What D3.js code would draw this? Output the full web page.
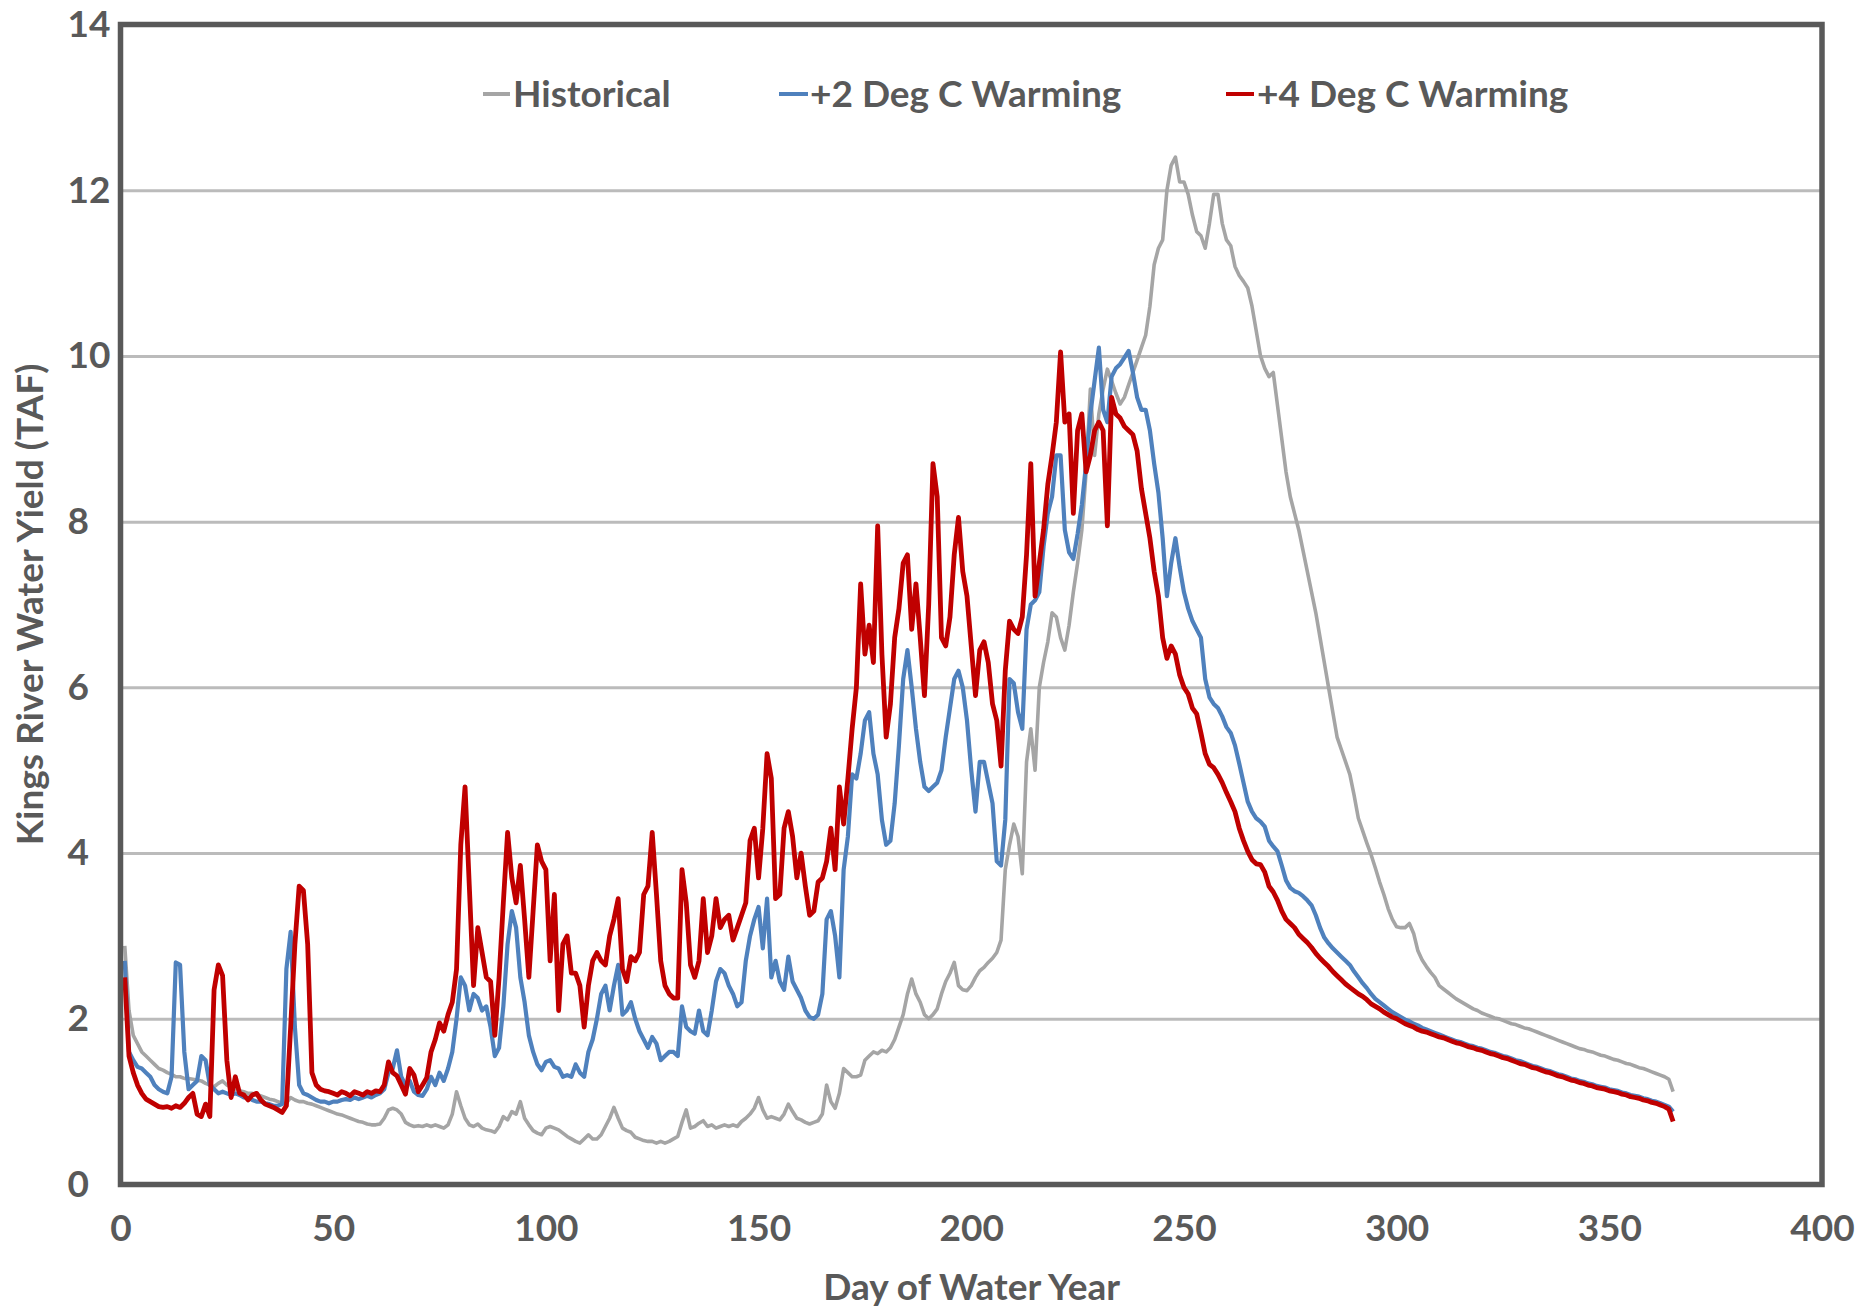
<!DOCTYPE html>
<html>
<head>
<meta charset="utf-8">
<title>Kings River Water Yield</title>
<script src="https://cdn.jsdelivr.net/npm/d3@7"></script>
<style>
  html, body { margin: 0; padding: 0; background: #ffffff; overflow: hidden; }
  svg { display: block; }
  svg text { font-family: Lato, "Open Sans", "DejaVu Sans", sans-serif; font-weight: 700; fill: #595959; }
</style>
</head>
<body>
<svg id="chart" width="1857" height="1308"></svg>
<script>
// Daily water yield (TAF) for each day of the water year, days 1..365.
const historical = [
  2.88, 2.1, 1.8, 1.7, 1.6, 1.55, 1.5, 1.45, 1.4, 1.38,
  1.35, 1.33, 1.3, 1.3, 1.28, 1.28, 1.27, 1.26, 1.25, 1.22,
  1.2, 1.18, 1.22, 1.25, 1.2, 1.18, 1.15, 1.13, 1.12, 1.1,
  1.1, 1.08, 1.07, 1.05, 1.03, 1.02, 1.0, 0.98, 0.98, 1.05,
  1.02, 1.0, 1.0, 0.98, 0.97, 0.95, 0.93, 0.91, 0.89, 0.87,
  0.85, 0.84, 0.82, 0.8, 0.78, 0.76, 0.75, 0.73, 0.72, 0.72,
  0.73, 0.8, 0.9, 0.92, 0.9, 0.85, 0.75, 0.72, 0.7, 0.71,
  0.7, 0.72, 0.7, 0.72, 0.7, 0.68, 0.72, 0.85, 1.12, 0.95,
  0.8, 0.72, 0.7, 0.73, 0.68, 0.66, 0.65, 0.63, 0.7, 0.82,
  0.78, 0.88, 0.85, 1.0, 0.8, 0.72, 0.65, 0.62, 0.6, 0.68,
  0.7, 0.68, 0.66, 0.62, 0.58, 0.55, 0.52, 0.5, 0.55, 0.6,
  0.55, 0.55, 0.6, 0.7, 0.8, 0.93, 0.8, 0.68, 0.65, 0.63,
  0.57, 0.55, 0.53, 0.52, 0.52, 0.5, 0.52, 0.5, 0.52, 0.55,
  0.58, 0.75, 0.9, 0.68, 0.7, 0.74, 0.77, 0.7, 0.72, 0.68,
  0.7, 0.72, 0.7, 0.72, 0.7, 0.76, 0.8, 0.85, 0.92, 1.05,
  0.9, 0.8, 0.82, 0.8, 0.78, 0.85, 0.97, 0.88, 0.8, 0.78,
  0.75, 0.73, 0.75, 0.77, 0.85, 1.2, 1.0, 0.92, 1.1, 1.4,
  1.35, 1.3, 1.3, 1.32, 1.5, 1.55, 1.6, 1.58, 1.62, 1.6,
  1.65, 1.75, 1.9, 2.05, 2.3, 2.48, 2.3, 2.2, 2.05, 2.0,
  2.05, 2.12, 2.3, 2.45, 2.55, 2.68, 2.4, 2.35, 2.34, 2.4,
  2.5, 2.58, 2.62, 2.68, 2.73, 2.8, 2.95, 3.8, 4.1, 4.35,
  4.2, 3.75, 5.1, 5.5, 5.0, 6.0, 6.3, 6.55, 6.9, 6.85,
  6.6, 6.45, 6.75, 7.15, 7.5, 7.9, 8.6, 9.6, 8.8, 9.3,
  9.6, 9.84, 9.7, 9.55, 9.42, 9.5, 9.65, 9.8, 9.95, 10.1,
  10.25, 10.6, 11.1, 11.3, 11.4, 12.0, 12.3, 12.4, 12.1, 12.1,
  11.95, 11.7, 11.5, 11.45, 11.3, 11.6, 11.95, 11.95, 11.6, 11.4,
  11.33, 11.08, 10.97, 10.9, 10.82, 10.6, 10.3, 10.0, 9.85, 9.75,
  9.8, 9.4, 9.0, 8.6, 8.3, 8.1, 7.9, 7.65, 7.4, 7.15,
  6.9, 6.6, 6.3, 6.0, 5.7, 5.4, 5.25, 5.1, 4.95, 4.7,
  4.42, 4.27, 4.12, 3.98, 3.82, 3.65, 3.5, 3.33, 3.2, 3.11,
  3.1, 3.1, 3.15, 3.03, 2.82, 2.71, 2.63, 2.56, 2.5, 2.4,
  2.36, 2.32, 2.28, 2.24, 2.21, 2.18, 2.15, 2.12, 2.1, 2.07,
  2.05, 2.03, 2.01, 2.0, 1.98, 1.96, 1.94, 1.93, 1.91, 1.89,
  1.88, 1.86, 1.84, 1.82, 1.8, 1.78, 1.76, 1.74, 1.72, 1.7,
  1.68, 1.66, 1.64, 1.63, 1.61, 1.6, 1.58, 1.56, 1.55, 1.53,
  1.51, 1.5, 1.48, 1.46, 1.45, 1.43, 1.41, 1.4, 1.38, 1.36,
  1.34, 1.32, 1.3, 1.27, 1.12
];

const warming2 = [
  2.7, 1.6, 1.5, 1.42, 1.4, 1.35, 1.3, 1.2, 1.15, 1.12,
  1.1, 1.3, 2.68, 2.65, 1.6, 1.15, 1.2, 1.25, 1.55, 1.5,
  1.2, 1.15, 1.1, 1.12, 1.1, 1.08, 1.1, 1.08, 1.05, 1.05,
  1.02, 1.0, 1.0, 0.98, 0.97, 0.95, 0.95, 0.97, 2.6, 3.05,
  1.9, 1.2, 1.1, 1.08, 1.05, 1.02, 1.0, 1.0, 0.98, 1.0,
  1.0, 1.02, 1.03, 1.02, 1.05, 1.03, 1.05, 1.07, 1.05, 1.08,
  1.1, 1.15, 1.35, 1.4, 1.62, 1.3, 1.2, 1.25, 1.12, 1.08,
  1.07, 1.15, 1.3, 1.2, 1.35, 1.25, 1.4, 1.6, 2.0, 2.5,
  2.4, 2.1, 2.3, 2.25, 2.1, 2.15, 1.9, 1.55, 1.65, 2.15,
  2.9, 3.3, 3.1, 2.5, 2.2, 1.8, 1.6, 1.45, 1.38, 1.48,
  1.5, 1.42, 1.4, 1.3, 1.32, 1.3, 1.45, 1.35, 1.3, 1.6,
  1.75, 2.0, 2.3, 2.4, 2.1, 2.4, 2.65, 2.05, 2.1, 2.2,
  2.0, 1.85, 1.75, 1.65, 1.78, 1.7, 1.5, 1.55, 1.6, 1.6,
  1.55, 2.15, 1.9, 1.85, 1.82, 2.1, 1.85, 1.8, 2.1, 2.45,
  2.6, 2.55, 2.4, 2.3, 2.15, 2.2, 2.7, 3.0, 3.2, 3.35,
  2.85, 3.45, 2.5, 2.7, 2.45, 2.35, 2.75, 2.45, 2.35, 2.25,
  2.1, 2.02, 2.0, 2.05, 2.3, 3.2, 3.3, 3.0, 2.5, 3.8,
  4.2, 4.95, 4.9, 5.2, 5.6, 5.7, 5.2, 4.95, 4.4, 4.1,
  4.15, 4.6, 5.3, 6.1, 6.45, 6.0, 5.5, 5.1, 4.8, 4.75,
  4.8, 4.85, 5.0, 5.4, 5.75, 6.1, 6.2, 6.0, 5.6, 5.0,
  4.5, 5.1, 5.1, 4.85, 4.6, 3.9, 3.85, 4.4, 6.1, 6.05,
  5.7, 5.5, 6.7, 7.0, 7.05, 7.15, 7.7, 8.1, 8.3, 8.8,
  8.8, 7.9, 7.63, 7.55, 7.85, 8.2, 8.7, 9.3, 9.7, 10.1,
  9.35, 9.2, 9.75, 9.85, 9.9, 9.98, 10.06, 9.8, 9.5, 9.35,
  9.35, 9.1, 8.7, 8.35, 7.8, 7.1, 7.5, 7.8, 7.45, 7.15,
  6.95, 6.8, 6.7, 6.6, 6.1, 5.88, 5.8, 5.75, 5.65, 5.52,
  5.45, 5.3, 5.08, 4.85, 4.62, 4.5, 4.42, 4.38, 4.32, 4.15,
  4.08, 4.02, 3.85, 3.67, 3.58, 3.54, 3.52, 3.48, 3.43, 3.37,
  3.25, 3.1, 2.98, 2.91, 2.85, 2.8, 2.75, 2.7, 2.65, 2.57,
  2.5, 2.43, 2.37, 2.3, 2.24, 2.2, 2.16, 2.12, 2.08, 2.05,
  2.02, 1.99, 1.97, 1.94, 1.92, 1.89, 1.87, 1.85, 1.83, 1.81,
  1.79, 1.77, 1.75, 1.73, 1.72, 1.7, 1.68, 1.67, 1.65, 1.64,
  1.62, 1.6, 1.59, 1.57, 1.55, 1.54, 1.52, 1.5, 1.49, 1.47,
  1.45, 1.43, 1.42, 1.4, 1.38, 1.37, 1.35, 1.33, 1.32, 1.3,
  1.28, 1.27, 1.25, 1.24, 1.22, 1.21, 1.19, 1.18, 1.17, 1.15,
  1.14, 1.13, 1.11, 1.1, 1.08, 1.07, 1.06, 1.04, 1.03, 1.01,
  1.0, 0.98, 0.96, 0.94, 0.88
];

const warming4 = [
  2.5, 1.55, 1.35, 1.2, 1.1, 1.03, 1.0, 0.97, 0.94, 0.93,
  0.94, 0.92, 0.95, 0.93, 0.98, 1.05, 1.1, 0.85, 0.82, 0.97,
  0.82, 2.35, 2.65, 2.52, 1.5, 1.05, 1.3, 1.1, 1.08, 1.02,
  1.08, 1.1, 1.02, 0.97, 0.95, 0.93, 0.9, 0.87, 0.95, 1.9,
  2.9, 3.6, 3.55, 2.9, 1.35, 1.2, 1.15, 1.13, 1.12, 1.1,
  1.08, 1.12, 1.1, 1.07, 1.12, 1.1, 1.08, 1.12, 1.1, 1.13,
  1.12, 1.2, 1.48, 1.35, 1.31, 1.2, 1.09, 1.4, 1.32, 1.12,
  1.2, 1.29, 1.6, 1.75, 1.95, 1.85, 2.05, 2.2, 2.6, 4.1,
  4.8, 3.6, 2.4, 3.1, 2.8, 2.5, 2.45, 1.8, 2.5, 3.4,
  4.25, 3.7, 3.4, 3.85, 3.2, 2.5, 3.3, 4.1, 3.9, 3.8,
  2.7, 3.5, 2.1, 2.9, 3.0, 2.55, 2.55, 2.4, 1.9, 2.4,
  2.7, 2.8, 2.7, 2.65, 3.0, 3.2, 3.45, 2.6, 2.45, 2.75,
  2.7, 2.8, 3.5, 3.6, 4.25, 3.5, 2.7, 2.4, 2.3, 2.25,
  2.25, 3.8, 3.4, 2.65, 2.5, 2.7, 3.45, 2.8, 3.0, 3.45,
  3.1, 3.2, 3.25, 2.95, 3.1, 3.25, 3.4, 4.15, 4.3, 3.7,
  4.3, 5.2, 4.9, 3.45, 3.5, 4.3, 4.5, 4.2, 3.7, 4.0,
  3.6, 3.25, 3.3, 3.65, 3.7, 3.9, 4.3, 3.8, 4.8, 4.35,
  4.9, 5.5, 6.0, 7.25, 6.4, 6.75, 6.3, 7.95, 6.4, 5.4,
  5.8, 6.6, 6.95, 7.5, 7.6, 6.7, 7.25, 6.6, 5.9, 7.0,
  8.7, 8.3, 6.6, 6.5, 6.85, 7.6, 8.05, 7.4, 7.1, 6.5,
  5.9, 6.45, 6.55, 6.3, 5.8, 5.6, 5.05, 6.2, 6.8, 6.7,
  6.65, 6.85, 7.6, 8.7, 7.1, 7.5, 7.9, 8.45, 8.8, 9.2,
  10.05, 9.2, 9.3, 8.1, 9.1, 9.3, 8.6, 8.8, 9.1, 9.2,
  9.1, 7.95, 9.5, 9.3, 9.25, 9.15, 9.1, 9.05, 8.85, 8.4,
  8.1, 7.8, 7.4, 7.1, 6.6, 6.35, 6.5, 6.4, 6.15, 6.0,
  5.92, 5.75, 5.68, 5.45, 5.2, 5.07, 5.03, 4.95, 4.85, 4.73,
  4.62, 4.5, 4.3, 4.15, 4.02, 3.92, 3.87, 3.86, 3.77, 3.6,
  3.53, 3.43, 3.3, 3.2, 3.15, 3.1, 3.02, 2.97, 2.92, 2.86,
  2.79, 2.73, 2.68, 2.63, 2.57, 2.52, 2.47, 2.42, 2.38, 2.34,
  2.3, 2.27, 2.23, 2.18, 2.15, 2.12, 2.08, 2.05, 2.02, 2.0,
  1.97, 1.94, 1.92, 1.9, 1.87, 1.85, 1.84, 1.82, 1.8, 1.78,
  1.77, 1.75, 1.73, 1.71, 1.7, 1.68, 1.66, 1.65, 1.63, 1.62,
  1.6, 1.58, 1.57, 1.55, 1.53, 1.52, 1.5, 1.48, 1.46, 1.45,
  1.43, 1.41, 1.4, 1.38, 1.36, 1.35, 1.33, 1.31, 1.3, 1.28,
  1.26, 1.25, 1.23, 1.22, 1.2, 1.19, 1.17, 1.16, 1.15, 1.13,
  1.12, 1.11, 1.09, 1.08, 1.06, 1.05, 1.04, 1.02, 1.01, 0.99,
  0.98, 0.96, 0.94, 0.91, 0.76
];

const firstDay = 1;
const xTicks = [0, 50, 100, 150, 200, 250, 300, 350, 400];
const yTicks = [0, 2, 4, 6, 8, 10, 12, 14];
const seriesNames = ["Historical", "+2 Deg C Warming", "+4 Deg C Warming"];
const seriesColors = ["#A5A5A5", "#4F81BD", "#C00000"];
const seriesWidths = [3.6, 4.2, 4.8];
const xTitle = "Day of Water Year";
const yTitle = "Kings River Water Yield (TAF)";

const seriesValues = [historical, warming2, warming4];

const svg = d3.select("#chart");
const plot = { left: 120.5, right: 1822, top: 24.5, bottom: 1184.5 };
const fontSize = 37;

const x = d3.scaleLinear().domain([0, 400]).range([plot.left, plot.right]);
const y = d3.scaleLinear().domain([0, 14]).range([plot.bottom, plot.top]);

svg.append("rect").attr("width", 1857).attr("height", 1308).attr("fill", "#ffffff");

// horizontal gridlines
const grid = svg.append("g")
  .attr("transform", `translate(${plot.left},0)`)
  .call(d3.axisLeft(y).tickValues(yTicks.filter(v => v > 0 && v < 14))
    .tickSize(-(plot.right - plot.left)).tickFormat(""));
grid.select(".domain").remove();
grid.selectAll(".tick line").attr("stroke", "#BBBBBB").attr("stroke-width", 3);

// y axis labels (left-aligned column beside the axis)
const yAxis = svg.append("g")
  .attr("transform", `translate(${plot.left},0)`)
  .call(d3.axisLeft(y).tickValues(yTicks).tickSize(0).tickPadding(53));
yAxis.select(".domain").remove();
yAxis.selectAll("text")
  .attr("text-anchor", "start")
  .attr("font-size", fontSize).attr("fill", "#595959")
  .style("font-family", "Lato, 'Open Sans', sans-serif").style("font-weight", 700);

// x axis labels
const xAxis = svg.append("g")
  .attr("transform", `translate(0,${plot.bottom})`)
  .call(d3.axisBottom(x).tickValues(xTicks).tickSize(0).tickPadding(30));
xAxis.select(".domain").remove();
xAxis.selectAll("text").attr("font-size", fontSize).attr("fill", "#595959")
  .style("font-family", "Lato, 'Open Sans', sans-serif").style("font-weight", 700);

// series lines
const line = d3.line()
  .x((d, i) => x(firstDay + i))
  .y(d => y(d));

svg.append("g").selectAll("path")
  .data(seriesValues)
  .join("path")
  .attr("d", d => line(d))
  .attr("fill", "none")
  .attr("stroke", (d, i) => seriesColors[i])
  .attr("stroke-width", (d, i) => seriesWidths[i])
  .attr("stroke-linejoin", "round")
  .attr("stroke-linecap", "butt");

// plot frame
svg.append("rect")
  .attr("x", plot.left).attr("y", plot.top)
  .attr("width", plot.right - plot.left).attr("height", plot.bottom - plot.top)
  .attr("fill", "none").attr("stroke", "#595959").attr("stroke-width", 5.5);

// legend
const legendLayout = [
  { x1: 483, x2: 510, tx: 513 },
  { x1: 779, x2: 808, tx: 810 },
  { x1: 1226, x2: 1254, tx: 1257 }
];
const legend = svg.append("g");
seriesNames.forEach((name, i) => {
  const L = legendLayout[i];
  legend.append("line")
    .attr("x1", L.x1).attr("x2", L.x2).attr("y1", 94).attr("y2", 94)
    .attr("stroke", seriesColors[i]).attr("stroke-width", 4);
  legend.append("text")
    .attr("x", L.tx).attr("y", 107)
    .attr("font-size", fontSize)
    .text(name);
});

// axis titles
svg.append("text")
  .attr("x", (plot.left + plot.right) / 2 + 0.5).attr("y", 1300)
  .attr("text-anchor", "middle").attr("font-size", fontSize)
  .text(xTitle);

svg.append("text")
  .attr("transform", `translate(43,${(plot.top + plot.bottom) / 2}) rotate(-90)`)
  .attr("text-anchor", "middle").attr("font-size", fontSize)
  .text(yTitle);
</script>
</body>
</html>
